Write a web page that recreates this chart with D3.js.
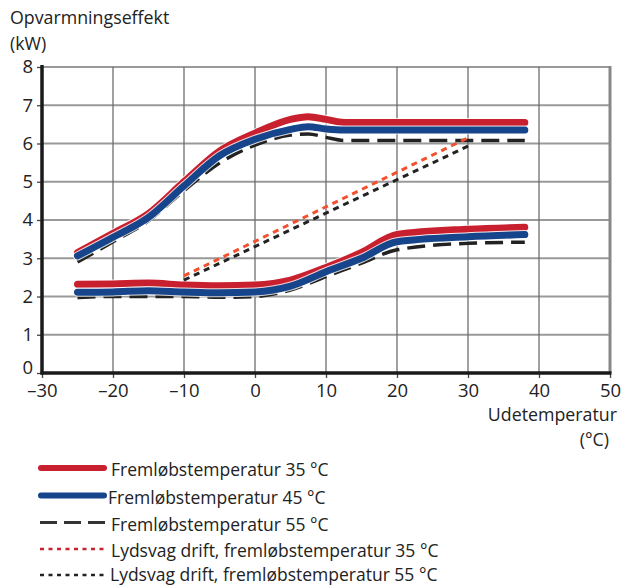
<!DOCTYPE html>
<html>
<head>
<meta charset="utf-8">
<script src="https://cdn.jsdelivr.net/npm/d3@7"></script>
<style>
  body { margin: 0; background: #fff; }
  svg text { font-family: "Open Sans", "Noto Sans", sans-serif; fill: #222; }
</style>
</head>
<body>
<script>
// upper curves (full output)
var tempsUpper = [-25, -20, -15, -10, -5, 0, 5, 7.5, 10, 12.5, 20, 30, 38];
var red35Upper   = [3.15, 3.65, 4.17, 5.0, 5.8, 6.27, 6.63, 6.7, 6.63, 6.55, 6.55, 6.55, 6.55];
var blue45Upper  = [3.06, 3.55, 4.07, 4.89, 5.68, 6.11, 6.37, 6.44, 6.38, 6.35, 6.35, 6.35, 6.35];
var black55Upper = [2.9, 3.43, 3.98, 4.77, 5.49, 5.96, 6.22, 6.25, 6.16, 6.08, 6.08, 6.08, 6.08];

// lower curves (minimum output)
var tempsLower = [-25, -20, -15, -10, -5, 0, 5, 10, 15, 20, 30, 38];
var red35Lower   = [2.32, 2.33, 2.35, 2.3, 2.28, 2.3, 2.43, 2.76, 3.15, 3.62, 3.76, 3.81];
var blue45Lower  = [2.11, 2.12, 2.15, 2.12, 2.1, 2.12, 2.27, 2.65, 3.0, 3.43, 3.56, 3.62];
var black55Lower = [1.97, 2.0, 2.0, 2.0, 1.98, 2.0, 2.17, 2.52, 2.87, 3.22, 3.39, 3.42];

// quiet mode
var tempsQuiet = [-10, 30];
var red35Quiet   = [2.54, 6.15];
var black55Quiet = [2.43, 5.93];

var xTicks = [-30, -20, -10, 0, 10, 20, 30, 40, 50];
var yTicks = [0, 1, 2, 3, 4, 5, 6, 7, 8];

var legendLabels = [
  "Fremløbstemperatur 35 °C",
  "Fremløbstemperatur 45 °C",
  "Fremløbstemperatur 55 °C",
  "Lydsvag drift, fremløbstemperatur 35 °C",
  "Lydsvag drift, fremløbstemperatur 55 °C"
];

var W = 625, H = 586;
var plotL = 42, plotR = 610, plotT = 67, plotB = 373;

var svg = d3.select("body").append("svg")
  .attr("width", W).attr("height", H);

var x = d3.scaleLinear().domain([-30, 50]).range([plotL, plotR]);
var y = d3.scaleLinear().domain([0, 8]).range([plotB, plotT]);

// grid
svg.append("g").selectAll("line").data(yTicks.slice(1)).enter().append("line")
  .attr("x1", plotL).attr("x2", plotR)
  .attr("y1", function(d) { return y(d); }).attr("y2", function(d) { return y(d); })
  .attr("stroke", "#999").attr("stroke-width", 1.8);

svg.append("g").selectAll("line").data(xTicks.slice(1, -1)).enter().append("line")
  .attr("x1", function(d) { return x(d); }).attr("x2", function(d) { return x(d); })
  .attr("y1", plotT).attr("y2", plotB)
  .attr("stroke", "#6e6e6e").attr("stroke-width", 1.3);

// right border
svg.append("line")
  .attr("x1", plotR).attr("x2", plotR).attr("y1", plotT - 1).attr("y2", plotB)
  .attr("stroke", "#888").attr("stroke-width", 3);

// axes
var xAxis = d3.axisBottom(x).tickValues(xTicks).tickSize(5).tickPadding(6)
  .tickFormat(function(d) { return d < 0 ? "\u2013" + Math.abs(d) : d; });
var gx = svg.append("g").attr("transform", "translate(0," + plotB + ")").call(xAxis);
gx.select(".domain").remove();
gx.selectAll(".tick line").attr("stroke", "#444").attr("stroke-width", 1.3);
gx.selectAll("text").attr("font-size", 18.5).attr("fill", "#222");

var yAxis = d3.axisLeft(y).tickValues(yTicks).tickSize(5).tickPadding(4);
var gy = svg.append("g").attr("transform", "translate(" + plotL + ",0)").call(yAxis);
gy.select(".domain").remove();
gy.selectAll(".tick line").attr("stroke", "#444").attr("stroke-width", 1.3);
gy.selectAll("text").attr("font-size", 18.5).attr("fill", "#222");
// lift the "0" a touch so it clears the x labels
gy.selectAll(".tick").filter(function(d) { return d === 0; }).select("text").attr("dy", "0.05em");

svg.append("line")
  .attr("x1", plotL).attr("x2", plotL).attr("y1", plotT - 2).attr("y2", plotB + 1.5)
  .attr("stroke", "#1a1a1a").attr("stroke-width", 3.5);
svg.append("line")
  .attr("x1", plotL - 1.5).attr("x2", plotR + 1.5).attr("y1", plotB).attr("y2", plotB)
  .attr("stroke", "#1a1a1a").attr("stroke-width", 3.5);

// axis titles
svg.append("text").attr("x", 10).attr("y", 24).attr("font-size", 17.8).text("Opvarmningseffekt");
svg.append("text").attr("x", 10).attr("y", 50).attr("font-size", 17.8).text("(kW)");
svg.append("text").attr("x", 617).attr("y", 421).attr("font-size", 17.8)
  .attr("text-anchor", "end").text("Udetemperatur");
svg.append("text").attr("x", 609).attr("y", 446).attr("font-size", 17.8)
  .attr("text-anchor", "end").text("(°C)");

// lines
function series(xs, ys) {
  return xs.map(function(t, i) { return [t, ys[i]]; });
}

var smooth = d3.line()
  .x(function(d) { return x(d[0]); })
  .y(function(d) { return y(d[1]); })
  .curve(d3.curveMonotoneX);

var straight = d3.line()
  .x(function(d) { return x(d[0]); })
  .y(function(d) { return y(d[1]); });

function drawDashed(data) {
  svg.append("path").attr("d", smooth(data))
    .attr("fill", "none").attr("stroke", "#222").attr("stroke-width", 3.5)
    .attr("stroke-dasharray", "18,8");
}

function drawThick(data, color) {
  svg.append("path").attr("d", smooth(data))
    .attr("fill", "none").attr("stroke", "#fff").attr("stroke-width", 9)
    .attr("stroke-linecap", "round").attr("stroke-opacity", 0.8);
  svg.append("path").attr("d", smooth(data))
    .attr("fill", "none").attr("stroke", color).attr("stroke-width", 7)
    .attr("stroke-linecap", "round");
}

function drawDotted(data, color) {
  svg.append("path").attr("d", straight(data))
    .attr("fill", "none").attr("stroke", color).attr("stroke-width", 3)
    .attr("stroke-dasharray", "6,5");
}

var red = "#c9202f", blue = "#16458b", orange = "#f2502e";

drawDashed(series(tempsUpper, black55Upper));
drawDashed(series(tempsLower, black55Lower));
drawThick(series(tempsUpper, red35Upper), red);
drawThick(series(tempsLower, red35Lower), red);
drawThick(series(tempsUpper, blue45Upper), blue);
drawThick(series(tempsLower, blue45Lower), blue);
drawDotted(series(tempsQuiet, black55Quiet), "#222");
drawDotted(series(tempsQuiet, red35Quiet), orange);

// legend
var legendY = [468, 495.5, 522.5, 549, 575];
var legendTextX = [111, 108, 111, 111, 110];
var legendStyle = [
  { color: red, width: 6, dash: null, cap: "round" },
  { color: blue, width: 6, dash: null, cap: "round" },
  { color: "#333", width: 3, dash: "17,7", cap: "butt" },
  { color: red, width: 2.5, dash: "4,4.5", cap: "butt" },
  { color: "#222", width: 2.5, dash: "4,4.5", cap: "butt" }
];

var lg = svg.append("g").selectAll("g").data(legendLabels).enter().append("g");
lg.append("line")
  .attr("x1", function(d, i) { return legendStyle[i].cap === "round" ? 41 : 40; })
  .attr("x2", function(d, i) { return legendStyle[i].cap === "round" ? 104 : 106; })
  .attr("y1", function(d, i) { return legendY[i]; })
  .attr("y2", function(d, i) { return legendY[i]; })
  .attr("stroke", function(d, i) { return legendStyle[i].color; })
  .attr("stroke-width", function(d, i) { return legendStyle[i].width; })
  .attr("stroke-linecap", function(d, i) { return legendStyle[i].cap; })
  .attr("stroke-dasharray", function(d, i) { return legendStyle[i].dash; });
lg.append("text")
  .attr("x", function(d, i) { return legendTextX[i]; })
  .attr("y", function(d, i) { return legendY[i] + (i === 4 ? 6 : 8); })
  .attr("font-size", 17.5)
  .text(function(d) { return d; });
</script>
</body>
</html>
